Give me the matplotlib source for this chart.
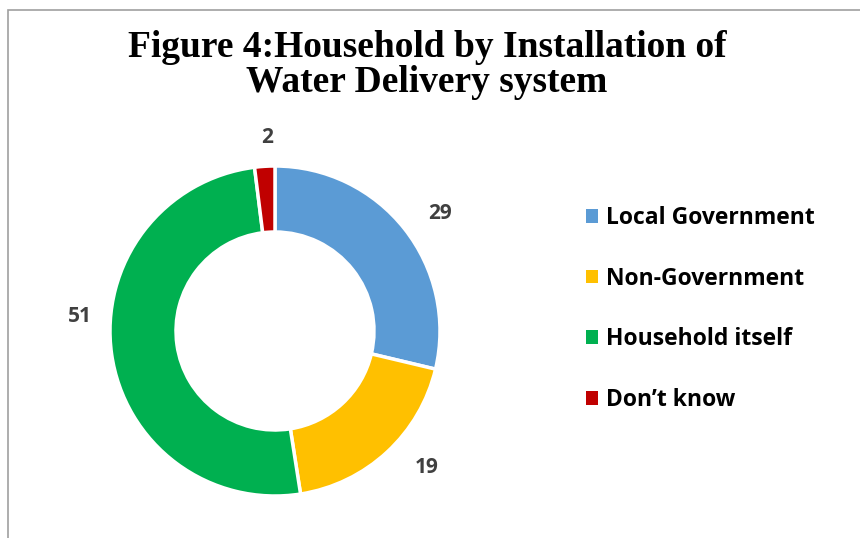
import matplotlib
matplotlib.use('Agg')
import matplotlib.pyplot as plt
from matplotlib.patches import Rectangle

labels = ['Local Government', 'Non-Government', 'Household itself', 'Don\u2019t know']
values = [29, 19, 51, 2]
colors = ['#5B9BD5', '#FFC000', '#00B050', '#C00000']

fig = plt.figure(figsize=(8.6, 5.38), dpi=100)

# frame (only left and top edges are visible in the picture)
fig.add_artist(Rectangle((8 / 860, -0.1), 1.2, (538 - 10) / 538 + 0.1,
                         transform=fig.transFigure, fill=False,
                         edgecolor='#A0A0A0', linewidth=1.2))

fig.text(427 / 860, (538 - 65) / 538, 'Figure 4:Household by Installation of\nWater Delivery system',
         ha='center', va='center', fontsize=27, fontweight='bold',
         family='Liberation Serif', linespacing=1.0)

ax = fig.add_axes([(275 - 165) / 860, (538 - 331 - 165) / 538, 330 / 860, 330 / 538])
wedges, _ = ax.pie(values, colors=colors, startangle=90, counterclock=False,
                   radius=1.0, wedgeprops=dict(width=0.4, edgecolor='white', linewidth=2.5))
ax.set_xlim(-1, 1)
ax.set_ylim(-1, 1)
ax.set_aspect('equal')
ax.axis('off')

# data labels
label_pos = [(1.0, 0.71), (0.92, -0.83), (-1.18, 0.09), (-0.05, 1.17)]
for (x, y), v in zip(label_pos, values):
    ax.text(x, y, str(v), ha='center', va='center', fontsize=15,
            fontweight='bold', color='#404040', family='Open Sans')

handles = [Rectangle((0, 0), 1, 1, facecolor=c) for c in colors]
leg = fig.legend(handles, labels, loc='center left',
                 bbox_to_anchor=(565 / 860, (538 - 309) / 538),
                 frameon=False, handlelength=0.55, handleheight=0.55,
                 handletextpad=0.35, labelspacing=1.6,
                 prop={'family': 'Open Sans', 'weight': 'bold', 'size': 16.5})

fig.savefig('out.png', dpi=100)
